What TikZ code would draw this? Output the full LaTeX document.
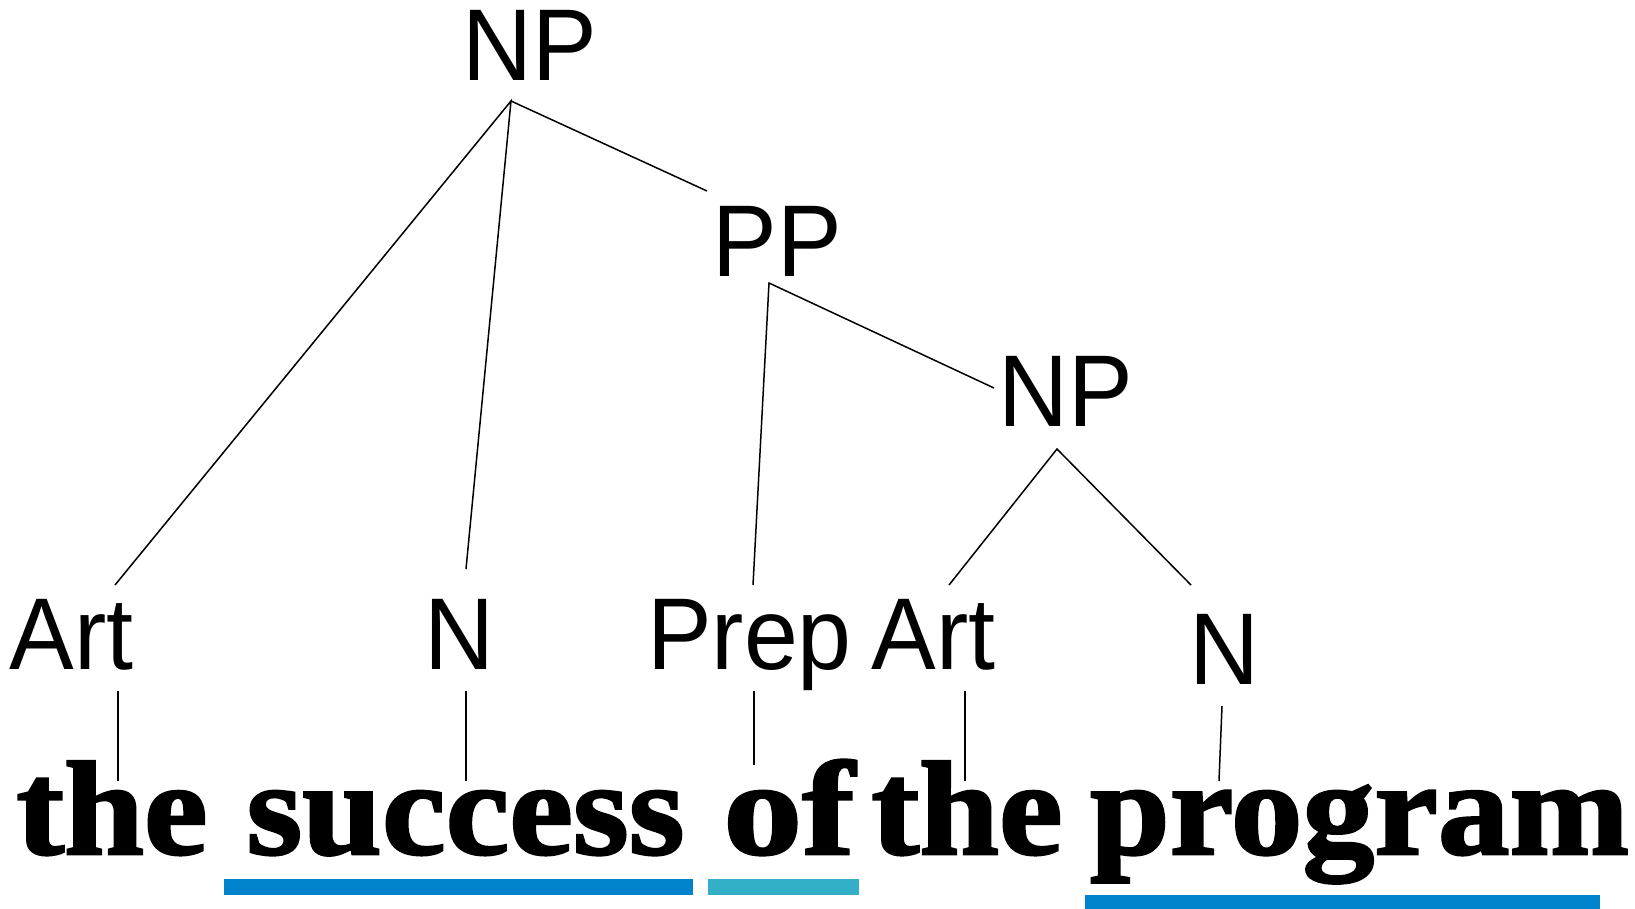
\documentclass[tikz,border=0pt]{standalone}
\usepackage{fontspec}
\newfontfamily\treefont[FakeStretch=0.95]{Liberation Sans}
\newfontfamily\wordfont[FakeStretch=1.07,FakeBold=1.9]{Liberation Serif Bold}
\definecolor{ulblue}{HTML}{0083CA}
\definecolor{ulteal}{HTML}{33AFC8}
\begin{document}
\begin{tikzpicture}[x=1pt,y=-1pt,
  cat/.style={inner sep=0pt,anchor=base,font=\treefont\fontsize{102}{110}\selectfont},
  word/.style={inner sep=0pt,anchor=base,font=\wordfont\fontsize{134}{140}\selectfont},
  branch/.style={line width=1.5pt,black}]
\useasboundingbox (0,0) rectangle (1635,908);
% category labels
\node[cat] (np1) at (530,80) {NP};
\node[cat] (pp) at (777,276) {PP};
\node[cat] (np2) at (1066,426) {NP};
\node[cat] (art1) at (71.5,669) {Art};
\node[cat] (n1) at (459,669) {N};
\node[cat] (prep) at (749.5,669) {Prep};
\node[cat] (art2) at (933.5,669) {Art};
\node[cat] (n2) at (1224,684) {N};
% words
\node[word] (w1) at (112,854) {the};
\node[word] (w2) at (465.5,854) {success};
\node[word] (w3) at (789,854) {\scalebox{1.1}[1]{of}};
\node[word] (w4) at (967,854) {the};
\node[word] (w5) at (1359.5,854) {program};
% branch end points
\coordinate (np1a) at (511,101);
\coordinate (art1t) at (115,585);
\coordinate (n1t) at (466,569);
\coordinate (ppt) at (707,191);
\coordinate (ppa) at (769,283);
\coordinate (prept) at (753,585);
\coordinate (np2t) at (994,388);
\coordinate (np2a) at (1057,449);
\coordinate (art2t) at (949,585);
\coordinate (n2t) at (1191,585);
% lexical lines
\coordinate (art1b) at (118,691); \coordinate (w1t) at (118,781);
\coordinate (n1b) at (466,691);   \coordinate (w2t) at (466,781);
\coordinate (prepb) at (754,691); \coordinate (w3t) at (754,765);
\coordinate (art2b) at (965,691); \coordinate (w4t) at (965,781);
\coordinate (n2b) at (1222,706);  \coordinate (w5t) at (1219,781);
\draw[branch] (art1t) -- (np1a) -- (n1t);
\draw[branch] (np1a) -- (ppt);
\draw[branch] (prept) -- (ppa) -- (np2t);
\draw[branch] (art2t) -- (np2a) -- (n2t);
\draw[branch] (art1b) -- (w1t);
\draw[branch] (n1b) -- (w2t);
\draw[branch] (prepb) -- (w3t);
\draw[branch] (art2b) -- (w4t);
\draw[branch] (n2b) -- (w5t);
% underlines
\fill[ulblue] (224,879) rectangle (693,895);
\fill[ulteal] (708,879) rectangle (859,895);
\fill[ulblue] (1085,895) rectangle (1600,910);
\end{tikzpicture}
\end{document}
